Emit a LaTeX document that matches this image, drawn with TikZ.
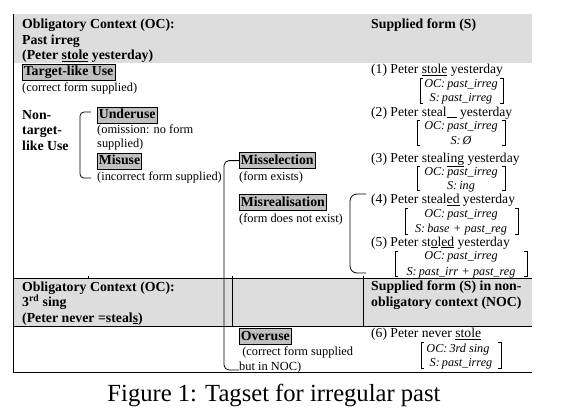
\documentclass[tikz,border=0pt]{standalone}
\usepackage{fontspec}
\setmainfont{Liberation Serif}
\definecolor{bandgray}{RGB}{221,221,221}
\definecolor{tagfill}{RGB}{192,192,192}
\newcommand\hdf{\fontsize{13.8}{15.5}\selectfont\bfseries}
\newcommand\ntf{\fontsize{12.4}{13}\selectfont}
\newcommand\exf{\fontsize{13.6}{14}\selectfont}
\newcommand\mtf{\fontsize{12.2}{14}\selectfont\itshape}
\newcommand\mbrk[4]{%
  \draw[brk] (#1+3,#3) -- (#1,#3) -- (#1,#4) -- (#1+3,#4);
  \draw[brk] (#2-3,#3) -- (#2,#3) -- (#2,#4) -- (#2-3,#4);}
\begin{document}
\begin{tikzpicture}[x=1pt,y=-1pt,
  txt/.style={anchor=base west,inner sep=0pt},
  hd/.style={txt,font=\hdf},
  nt/.style={txt,font=\ntf},
  ex/.style={txt,font=\exf},
  mrow/.style={anchor=base,inner sep=0pt,font=\mtf},
  tag/.style={anchor=base west,draw,fill=tagfill,inner sep=1.5pt,text height=9.8pt,text depth=3pt,font=\hdf,line width=0.6pt},
  rule/.style={line width=0.8pt},
  brk/.style={line width=0.7pt},
  conn/.style={line width=0.8pt,rounded corners=5pt}]
\useasboundingbox (0,0) rectangle (588,415);
% bands
\fill[bandgray] (13,14) rectangle (532,63);
\fill[bandgray] (13,278) rectangle (532,326.5);
% table rules
\draw[rule] (13,14) -- (13,372.5);
\draw[rule] (13,278) -- (532,278);
\draw[rule] (13,326.5) -- (532,326.5);
\draw[rule] (13,372.5) -- (532,372.5);
\draw[rule] (232,276) -- (232,326.5);
\draw[rule] (363,276) -- (363,326.5);
\draw[rule] (88,276) -- (88,278);
% header 1
\node[hd] (h1) at (22,28.5) {Obligatory Context (OC):};
\node[hd] (h2) at (22,44) {Past irreg};
\node[hd] (h3) at (22,59.5) {(Peter \underline{stole} yesterday)};
\node[hd] (sf) at (371,28.5) {Supplied form (S)};
% left tags
\node[tag] (tl) at (22,75.5) {Target-like Use};
\node[nt] (tln) at (22,91.5) {(correct form supplied)};
\node[hd] (n1) at (22,119) {Non-};
\node[hd] (n2) at (22,134.5) {target-};
\node[hd] (n3) at (22,150) {like Use};
\node[tag] (under) at (97,118.5) {Underuse};
\node[nt] (un1) at (97,133.5) {(omission: no form};
\node[nt] (un2) at (97,147.5) {supplied)};
\node[tag] (mis) at (97,164.5) {Misuse};
\node[nt] (misn) at (97,180) {(incorrect form supplied)};
\node[tag] (msel) at (239,164) {Misselection};
\node[nt] (mseln) at (239,180) {(form exists)};
\node[tag] (mreal) at (239,206) {Misrealisation};
\node[nt] (mrealn) at (239,222.5) {(form does not exist)};
% header 2
\node[hd] (g1) at (22,291) {Obligatory Context (OC):};
\node[hd] (g2) at (22,306.5) {3\textsuperscript{rd} sing};
\node[hd] (g3) at (22,322) {(Peter never =steal\underline{s})};
\node[hd] (sn1) at (371,290) {Supplied form (S) in non-};
\node[hd] (sn2) at (371,306.5) {obligatory context (NOC)};
\node[tag] (over) at (239,340) {Overuse};
\node[nt] (ov1) at (239,355.5) {\ (correct form supplied};
\node[nt] (ov2) at (239,370) {but in NOC)};
% examples
\node[ex] (e1) at (371,73.5) {(1) Peter \underline{stole} yesterday};
\node[mrow] (m1a) at (461,87.5) {OC:\,past\_irreg};
\node[mrow] (m1b) at (461,101.5) {S:\,past\_irreg};
\mbrk{420}{503}{78}{103.5}
\node[ex] (e2) at (371,116) {(2) Peter steal\underline{\hspace{10pt}} yesterday};
\node[mrow] (m2a) at (461,129.5) {OC:\,past\_irreg};
\node[mrow] (m2b) at (461,144) {S:\,Ø};
\mbrk{417}{505}{120.7}{145}
\node[ex] (e3) at (371,162) {(3) Peter steal\underline{ing} yesterday};
\node[mrow] (m3a) at (461,175) {OC:\,past\_irreg};
\node[mrow] (m3b) at (461,189.5) {S:\,ing};
\mbrk{417}{505}{166.7}{190.7}
\node[ex] (e4) at (371,203.5) {(4) Peter steal\underline{ed} yesterday};
\node[mrow] (m4a) at (461,217) {OC:\,past\_irreg};
\node[mrow] (m4b) at (461,232) {S:\,base\;+\;past\_reg};
\mbrk{405}{518}{208.3}{234}
\node[ex] (e5) at (371,246) {(5) Peter st\underline{o}l\underline{ed} yesterday};
\node[mrow] (m5a) at (461,259.5) {OC:\,past\_irreg};
\node[mrow] (m5b) at (461,275) {S:\,past\_irr\;+\;past\_reg};
\mbrk{395}{527}{251.7}{276.7}
\node[ex] (e6) at (371,337.5) {(6) Peter never \underline{stole}};
\node[mrow] (m6a) at (461,352) {OC:\,3rd sing\phantom{g}};
\node[mrow] (m6b) at (461,366) {S:\,past\_irreg};
\mbrk{421}{501}{342.7}{368.3}
% connectors / brackets
\coordinate (bu) at (91,112);
\coordinate (bm) at (91,178);
\draw[conn,rounded corners=4pt] (bu) -- (80,112) -- (80,178) -- (bm);
\coordinate (b4) at (366,194);
\coordinate (b5) at (366,273);
\draw[conn,rounded corners=7pt] (b4) -- (350,194) -- (350,273) -- (b5);
\draw[conn] (msel.west) -- ++(-15,0) |- ([yshift=-3pt]ov2.west);
% caption
\node[anchor=base,inner sep=0pt,font=\fontsize{24.6}{28}\selectfont] (cap) at (274,401) {Figure 1: Tagset for irregular past};
\end{tikzpicture}
\end{document}
